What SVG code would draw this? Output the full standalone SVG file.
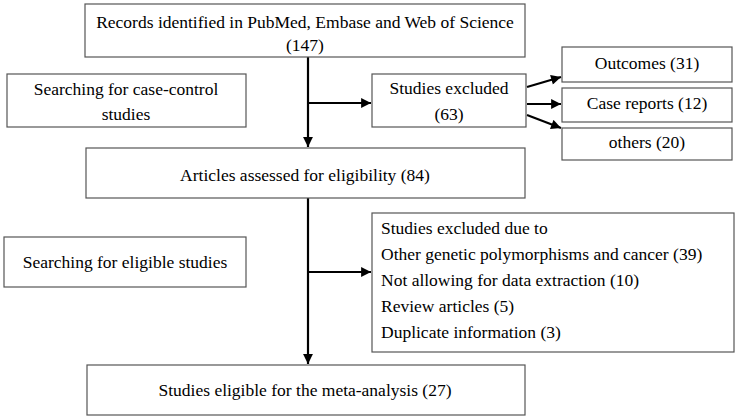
<svg xmlns="http://www.w3.org/2000/svg" width="739" height="420" viewBox="0 0 739 420">
<style>
.box{fill:#fff;stroke:#555;stroke-width:1.2}
.t{font-family:'Liberation Serif','Times New Roman',Tinos,serif;font-size:17.5px;fill:#000}
.c{text-anchor:middle}
.ln{stroke:#000;stroke-width:2.2;fill:none}
</style>
<defs>
<marker id="ah" viewBox="0 0 10 10" refX="10" refY="5" markerWidth="5" markerHeight="4.5" markerUnits="strokeWidth" orient="auto">
<path d="M0,0 L10,5 L0,10 z" fill="#000"/>
</marker>
</defs>
<g id="connectors">
<line class="ln" x1="308" y1="57" x2="308" y2="147" marker-end="url(#ah)"/>
<line class="ln" x1="308" y1="103" x2="371" y2="103" marker-end="url(#ah)"/>
<line class="ln" x1="527" y1="87" x2="561" y2="77" marker-end="url(#ah)"/>
<line class="ln" x1="527" y1="104" x2="561" y2="104" marker-end="url(#ah)"/>
<line class="ln" x1="527" y1="115" x2="561" y2="128" marker-end="url(#ah)"/>
<line class="ln" x1="308" y1="198" x2="308" y2="364" marker-end="url(#ah)"/>
<line class="ln" x1="308" y1="272" x2="371" y2="272" marker-end="url(#ah)"/>
</g>
<g class="t">
<g id="records">
<rect class="box" x="85" y="4" width="440" height="53"/>
<text class="c" x="305" y="28">Records identified in PubMed, Embase and Web of Science</text>
<text class="c" x="305" y="51">(147)</text>
</g>
<g id="search-cc">
<rect class="box" x="7" y="74" width="239" height="53"/>
<text class="c" x="126" y="95">Searching for case-control</text>
<text class="c" x="126" y="120">studies</text>
</g>
<g id="excluded">
<rect class="box" x="372" y="74" width="154" height="53"/>
<text class="c" x="449" y="94">Studies excluded</text>
<text class="c" x="449" y="120">(63)</text>
</g>
<g id="outcomes">
<rect class="box" x="562" y="47" width="170" height="35"/>
<text class="c" x="647" y="69">Outcomes (31)</text>
</g>
<g id="casereports">
<rect class="box" x="562" y="88" width="170" height="34"/>
<text class="c" x="647" y="109">Case reports (12)</text>
</g>
<g id="others">
<rect class="box" x="562" y="128" width="170" height="32"/>
<text class="c" x="647" y="148">others (20)</text>
</g>
<g id="articles">
<rect class="box" x="86" y="148" width="439" height="50"/>
<text class="c" x="305" y="181">Articles assessed for eligibility (84)</text>
</g>
<g id="search-el">
<rect class="box" x="4" y="237" width="242" height="50"/>
<text class="c" x="125" y="268">Searching for eligible studies</text>
</g>
<g id="excluded2">
<rect class="box" x="372" y="213" width="362" height="139"/>
<text x="381" y="234">Studies excluded due to</text>
<text x="381" y="260">Other genetic polymorphisms and cancer (39)</text>
<text x="381" y="286">Not allowing for data extraction (10)</text>
<text x="381" y="312">Review articles (5)</text>
<text x="381" y="338">Duplicate information (3)</text>
</g>
<g id="eligible">
<rect class="box" x="87" y="365" width="438" height="50"/>
<text class="c" x="305" y="396">Studies eligible for the meta-analysis (27)</text>
</g>
</g>
</svg>
